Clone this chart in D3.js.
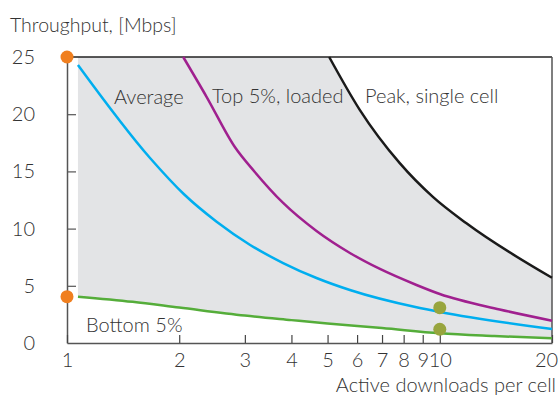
<!DOCTYPE html>
<html>
<head>
<meta charset="utf-8">
<script src="https://cdn.jsdelivr.net/npm/d3@7"></script>
<style>
body { margin:0; background:#fff; }
svg text { font-family: Lato, sans-serif; font-weight:300; fill:#333; }
</style>
</head>
<body>
<div id="chart"></div>
<script>
// Data
const peakX = [5.05, 6.1, 7.81, 9.6, 11.79, 20];
const peakY = [25, 20.38, 15.72, 12.75, 10.46, 5.7];

const topX = [2.05, 2.37, 2.82, 3.19, 3.8, 4.67, 5.74, 6.91, 8.66, 10, 14.48, 20];
const topY = [25, 21.5, 17.13, 14.95, 12.24, 9.79, 7.87, 6.47, 5.07, 4.28, 2.93, 1.95];

const avgX = [1.07, 1.67, 2.06, 2.52, 3.1, 3.8, 4.67, 5.74, 8.66, 10, 20];
const avgY = [24.3, 16.17, 13.0, 10.6, 8.57, 6.99, 5.68, 4.63, 3.12, 2.71, 1.22];

const botX = [1.07, 1.5, 2, 3, 4, 5, 7, 10, 14, 20];
const botY = [4.05, 3.6, 3.1, 2.4, 2.0, 1.7, 1.31, 0.85, 0.61, 0.41];

const orangeDots = [[1, 25], [1, 4.05]];
const oliveDots = [[10, 3.09], [10, 1.2]];

const xTicks = [1, 2, 3, 4, 5, 6, 7, 8, 9, 10, 20];
const yTicks = [0, 5, 10, 15, 20, 25];

const svgWidth = 558, svgHeight = 396;
const margin = { top: 57, right: 6, bottom: 53, left: 67 };
const width = svgWidth - margin.left - margin.right;
const height = svgHeight - margin.top - margin.bottom;

const svg = d3.select("#chart").append("svg")
.attr("width", svgWidth)
.attr("height", svgHeight);

const chart = svg.append("g")
.attr("transform", `translate(${margin.left},${margin.top})`);

const x = d3.scaleLog().domain([1, 20]).range([0, width]);
const y = d3.scaleLinear().domain([0, 25]).range([height, 0]);

const zip = (xs, ys) => xs.map((v, i) => [v, ys[i]]);

const lineGen = d3.line()
.x(d => x(d[0]))
.y(d => y(d[1]))
.curve(d3.curveMonotoneX);

// grey band: under the peak (capped at 25), above bottom 5%
const peakPath = lineGen(zip(peakX, peakY));
const lowerPath = lineGen(zip(botX, botY).reverse());
chart.append("path")
.attr("d", `M${x(botX[0])},${y(25)}L` + peakPath.slice(1) + "L" + lowerPath.slice(1) + "Z")
.attr("fill", "#e3e4e6");

// frame: top and right
chart.append("line")
.attr("x1", 0).attr("x2", width).attr("y1", 0).attr("y2", 0)
.attr("stroke", "#222").attr("stroke-width", 1.5);
chart.append("line")
.attr("x1", width).attr("x2", width).attr("y1", 0).attr("y2", height)
.attr("stroke", "#555").attr("stroke-width", 1.5);

// Axes
const yAxis = chart.append("g")
.call(d3.axisLeft(y).tickValues(yTicks).tickSize(-9).tickSizeOuter(0).tickPadding(32));
yAxis.select(".domain").attr("stroke", "#555").attr("stroke-width", 1.5);
yAxis.selectAll(".tick line").attr("stroke", "#555").attr("stroke-width", 1.2)
.filter(d => d === 0 || d === 25).remove();
yAxis.selectAll("text").attr("font-size", 20).attr("font-family", null);

const xAxis = chart.append("g")
.attr("transform", `translate(0,${height})`)
.call(d3.axisBottom(x).tickValues(xTicks).tickFormat(d3.format("d")).tickSize(-8).tickSizeOuter(0).tickPadding(10));
xAxis.select(".domain").attr("stroke", "#555").attr("stroke-width", 1.5);
xAxis.selectAll(".tick line").attr("stroke", "#444").attr("stroke-width", 1.2);
xAxis.selectAll("text").attr("font-size", 20).attr("font-family", null)
.attr("dx", d => d === 20 ? -6 : 0);

// Series lines
const series = [
  { xs: peakX, ys: peakY, color: "#1a1a1a" },
  { xs: topX, ys: topY, color: "#a0208f" },
  { xs: avgX, ys: avgY, color: "#00aeef" },
  { xs: botX, ys: botY, color: "#55ad3a" }
];
series.forEach(s => {
  chart.append("path")
  .attr("d", lineGen(zip(s.xs, s.ys)))
  .attr("fill", "none")
  .attr("stroke", s.color)
  .attr("stroke-width", 2.5);
});

// Dots
chart.selectAll(".dot-o").data(orangeDots).enter().append("circle")
.attr("cx", d => x(d[0])).attr("cy", d => y(d[1])).attr("r", 6.5).attr("fill", "#f07f1f");
chart.selectAll(".dot-g").data(oliveDots).enter().append("circle")
.attr("cx", d => x(d[0])).attr("cy", d => y(d[1])).attr("r", 6.5).attr("fill", "#98a53e");

// Labels
const labels = [
  { t: "Average", x: 114, y: 104 },
  { t: "Top 5%, loaded", x: 212, y: 103 },
  { t: "Peak, single cell", x: 365, y: 103 },
  { t: "Bottom 5%", x: 86, y: 332 },
  { t: "Throughput, [Mbps]", x: 10, y: 32, s: 19.5 }
];
svg.selectAll(".lbl").data(labels).enter().append("text")
.attr("x", d => d.x).attr("y", d => d.y)
.attr("font-size", d => d.s || 20)
.text(d => d.t);

svg.append("text")
.attr("x", 556).attr("y", 392)
.attr("text-anchor", "end")
.attr("font-size", 20)
.text("Active downloads per cell");
</script>
</body>
</html>
